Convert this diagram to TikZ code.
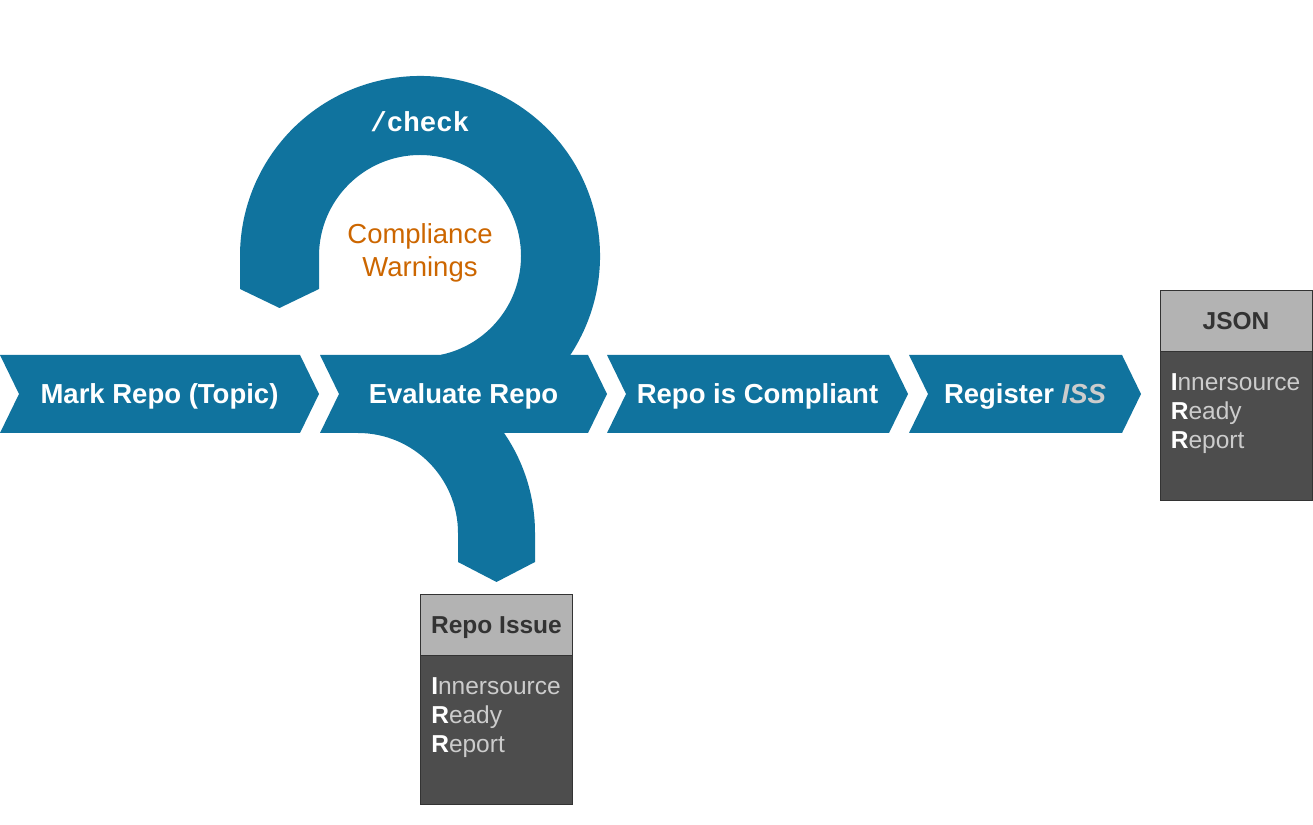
\documentclass[tikz,border=0pt]{standalone}
\usepackage{fontspec}
\setmainfont{Liberation Sans}
\newfontfamily\checkfont{Liberation Mono}
\usetikzlibrary{calc,positioning}
\definecolor{flowblue}{HTML}{10739E}
\definecolor{warnorange}{HTML}{CC6600}
\definecolor{headgray}{HTML}{B3B3B3}
\definecolor{bodygray}{HTML}{4D4D4D}
\definecolor{edgegray}{HTML}{333333}
\definecolor{textgray}{HTML}{CCCCCC}
\newcommand\irrReport{\textcolor{white}{\bfseries I}nnersource\\
	\textcolor{white}{\bfseries R}eady\\
	\textcolor{white}{\bfseries R}eport}
\tikzset{
myStep/.style={fill=flowblue}
, myStepText/.style={
	text=white, inner sep=0pt,
	font=\fontsize{27.5}{33}\selectfont\bfseries,
	text height=19.7pt, text depth=0pt
}
, myCheckText/.style={
	text=white, inner sep=0pt,
	font=\checkfont\bfseries\fontsize{27.5}{33}\selectfont
}
, myWarnText/.style={
	text=warnorange, inner sep=0pt, align=center,
	font=\fontsize{27.5}{33.5}\selectfont
}
% report boxes
, myHead/.style={
	rectangle, draw=edgegray, fill=headgray, line width=0.8pt,
	minimum width=152pt, minimum height=61pt, inner sep=0pt,
	text=edgegray, font=\fontsize{24.5}{29}\selectfont\bfseries,
	text height=17.5pt, text depth=0pt
}
, myBody/.style={
	rectangle, draw=edgegray, fill=bodygray, line width=0.8pt,
	minimum width=152pt, minimum height=149pt, inner sep=0pt
}
, myBodyText/.style={
	text=textgray, inner sep=0pt, align=left,
	font=\fontsize{24.5}{29}\selectfont
}
}
\begin{document}
\begin{tikzpicture}[x=1pt,y=1pt]
	\useasboundingbox (0,0) rectangle (1313,824);
	% check loop
	\fill[myStep] (420,568) ++(-78:180) arc[start angle=-78, end angle=180, radius=180pt]
		-- (240,535) -- (279.5,516) -- (319,535) -- (319,568)
		arc[start angle=180, end angle=-78, radius=101pt] -- cycle;
	% issue branch
	\fill[myStep] (358,468) arc[start angle=90, end angle=0, radius=177pt]
		-- (535,262) -- (496.5,242) -- (458,262) -- (458,291)
		arc[start angle=0, end angle=90, radius=100pt] -- cycle;
	% steps
	\foreach \l/\r/\nm/\txt in {0/300/MarkStep/{Mark Repo (Topic)},
		320/588/EvalStep/{Evaluate Repo},
		607/889/CompStep/{Repo is Compliant},
		909/1122/RegStep/{Register \textcolor{textgray}{\itshape ISS}}}{
		\fill[myStep] (\l,469) -- (\r,469) -- ++(19,-39) -- (\r,391)
			-- (\l,391) -- ++(19,39) -- cycle;
		\node[myStepText] (\nm) at ({(\l+\r)/2+9.5},430) {\txt};
	}
	% loop labels
	\node[myCheckText, anchor=base] (Check) at (420,692) {/check};
	\node[myWarnText] (Warnings) at (420,571) {Compliance\\Warnings};
	% reports
	\node[myHead] (JsonHead) at (1236,503.5) {JSON};
	\node[myBody] (JsonBody) [below=0pt of JsonHead] {};
	\node[myBodyText] (JsonText) [below right=22pt and 11pt of JsonBody.north west] {\irrReport};

	\node[myHead] (IssueHead) at (496.5,199.5) {Repo Issue};
	\node[myBody] (IssueBody) [below=0pt of IssueHead] {};
	\node[myBodyText] (IssueText) [below right=22pt and 11pt of IssueBody.north west] {\irrReport};
\end{tikzpicture}
\end{document}
